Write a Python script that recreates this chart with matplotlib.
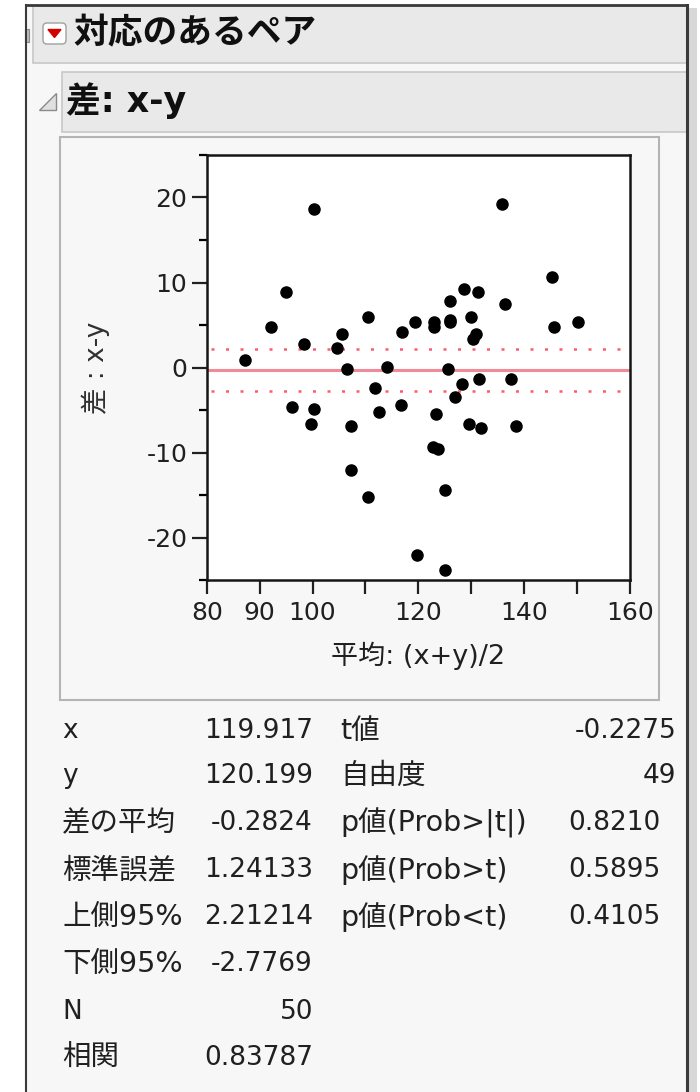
import matplotlib
matplotlib.use("Agg")
import matplotlib.pyplot as plt
from matplotlib.patches import Rectangle, Polygon, FancyBboxPatch

plt.rcParams['font.family'] = ['DejaVu Sans', 'Noto Sans CJK JP']
plt.rcParams['axes.unicode_minus'] = False

# ---------------- data ----------------
mean_xy = [87.2, 92.2, 94.9, 100.2, 98.4, 105.5, 104.6, 110.4, 117.0, 119.4,
           122.9, 122.9, 126.0, 126.0, 126.0, 128.6, 131.3, 130.0, 130.9, 130.4,
           135.8, 136.3, 145.2, 145.7, 150.1,
           106.5, 114.0, 125.6, 128.3, 131.4, 137.6, 111.8, 126.9, 96.2, 100.2,
           99.8, 107.3, 112.6, 116.7, 123.3, 129.6, 131.9, 138.5, 122.8, 123.8,
           107.3, 110.5, 125.0, 119.8, 125.0]
diff_xy = [0.9, 4.8, 8.9, 18.6, 2.8, 4.0, 2.3, 5.9, 4.2, 5.3,
           5.3, 4.8, 7.8, 5.6, 5.3, 9.2, 8.9, 5.9, 4.0, 3.3,
           19.2, 7.5, 10.6, 4.8, 5.3,
           -0.2, 0.1, -0.2, -1.9, -1.3, -1.3, -2.4, -3.5, -4.6, -4.9,
           -6.6, -6.9, -5.2, -4.4, -5.5, -6.6, -7.1, -6.9, -9.3, -9.6,
           -12.1, -15.2, -14.4, -22.1, -23.8]
mean_diff = -0.2824
upper95 = 2.21214
lower95 = -2.7769

x_ticks = [80, 90, 100, 110, 120, 130, 140, 150, 160]
x_labels = ["80", "90", "100", "", "120", "", "140", "", "160"]
y_major = [-20, -10, 0, 10, 20]
y_minor = [-25, -15, -5, 5, 15, 25]

left_rows = [("x", "119.917"), ("y", "120.199"), ("差の平均", "-0.2824"),
             ("標準誤差", "1.24133"), ("上側95%", "2.21214"), ("下側95%", "-2.7769"),
             ("N", "50"), ("相関", "0.83787")]
right_rows = [("t値", "-0.2275"), ("自由度", "49"), ("p値(Prob>|t|)", "0.8210"),
              ("p値(Prob>t)", "0.5895"), ("p値(Prob<t)", "0.4105")]

# ---------------- figure ----------------
W, H = 700, 1092
fig = plt.figure(figsize=(W / 100, H / 100), dpi=100)
fig.patch.set_facecolor("white")

bg = fig.add_axes([0, 0, 1, 1])
bg.set_xlim(0, W)
bg.set_ylim(H, 0)
bg.axis("off")

# window background and border
bg.add_patch(Rectangle((26, 5), 661, H, facecolor="#f7f7f7", edgecolor="none"))
bg.add_patch(Rectangle((688, 8), 9, H, facecolor="#d8d8d8", edgecolor="none"))
bg.plot([26, 687], [5, 5], color="#3a3a3a", lw=2)
bg.plot([687, 687], [5, H], color="#3a3a3a", lw=2.2)
bg.plot([26, 26], [5, H], color="#3a3a3a", lw=1.5)

# header 1
bg.add_patch(Rectangle((33, 6), 654, 57, facecolor="#e9e9e9", edgecolor="#c8c8c8", lw=1.2))
bg.add_patch(Rectangle((25, 29), 4, 13, facecolor="#bdbdbd", edgecolor="#8a8a8a", lw=0.8))
bg.add_patch(FancyBboxPatch((43, 23), 23, 21, boxstyle="round,pad=0,rounding_size=4",
                            facecolor="white", edgecolor="#a0a0a0", lw=1))
bg.add_patch(Polygon([[48, 29.5], [61, 29.5], [54.5, 37.5]], closed=True,
                     facecolor="#d40000", edgecolor="#d40000"))
bg.text(73, 33, "対応のあるペア", fontsize=25, fontweight="bold", va="center",
        ha="left", color="#101010")

# header 2
bg.add_patch(Rectangle((62, 72), 625, 60, facecolor="#e9e9e9", edgecolor="#c8c8c8", lw=1.2))
bg.add_patch(Polygon([[39, 110], [56, 110], [56, 93]], closed=True,
                     facecolor="#e0e0e0", edgecolor="#8a8a8a", lw=1))
bg.text(66, 101, "差: x-y", fontsize=25, fontweight="bold", va="center",
        ha="left", color="#101010")

# plot panel
bg.add_patch(Rectangle((60, 137), 599, 563, facecolor="#f7f7f7", edgecolor="#b4b4b4", lw=1.5))

# ---------------- plot axes ----------------
L, R, T, B = 206.7, 630.0, 155.0, 580.0
ax = fig.add_axes([L / W, 1 - B / H, (R - L) / W, (B - T) / H])
ax.set_facecolor("white")
ax.set_xlim(80, 160)
ax.set_ylim(-25, 25)

ax.axhline(mean_diff, color="#f08a96", lw=2.2, zorder=2)
ax.axhline(upper95, xmin=0.01, xmax=0.99, color="#ff5a6e", lw=1.8,
           linestyle=(0, (1.2, 4.6)), zorder=2)
ax.axhline(lower95, xmin=0.01, xmax=0.99, color="#ff5a6e", lw=1.8,
           linestyle=(0, (1.2, 4.6)), zorder=2)
ax.plot(mean_xy, diff_xy, "o", color="black", markersize=8, zorder=3)

ax.set_xticks(x_ticks)
ax.set_xticklabels(x_labels)
ax.set_yticks(y_major)
ax.set_yticks(y_minor, minor=True)
ax.tick_params(axis="x", which="major", length=10, width=1.6, direction="out",
               labelsize=18, pad=5, colors="#202020")
ax.tick_params(axis="y", which="major", length=11, width=1.6, direction="out",
               labelsize=18, pad=3, colors="#202020")
ax.tick_params(axis="y", which="minor", length=6, width=1.6, direction="out")
for s in ax.spines.values():
    s.set_linewidth(1.8)
    s.set_color("#151515")

ax.set_xlabel("平均: (x+y)/2", fontsize=19.5, labelpad=12, color="#202020")
ax.set_ylabel("差 : x-y", fontsize=19, labelpad=26, color="#303030")

# ---------------- stats table ----------------
row_y = [731, 776, 823, 870, 917, 964, 1012, 1058]
FS = 19
FS_CJK = 20.5


def lab_size(s):
    return FS_CJK if any(ord(c) > 0x2000 for c in s) else FS


for (lab, val), yy in zip(left_rows, row_y):
    bg.text(62, yy, lab, fontsize=lab_size(lab), va="center", ha="left", color="#202020")
    bg.text(313, yy, val, fontsize=FS, va="center", ha="right", color="#202020")
right_val_x = [676, 676, 660, 660, 660]
for (lab, val), yy, vx in zip(right_rows, row_y, right_val_x):
    bg.text(340, yy, lab, fontsize=lab_size(lab), va="center", ha="left", color="#202020")
    bg.text(vx, yy, val, fontsize=FS, va="center", ha="right", color="#202020")

fig.savefig("out.png", dpi=100, facecolor=fig.get_facecolor())
